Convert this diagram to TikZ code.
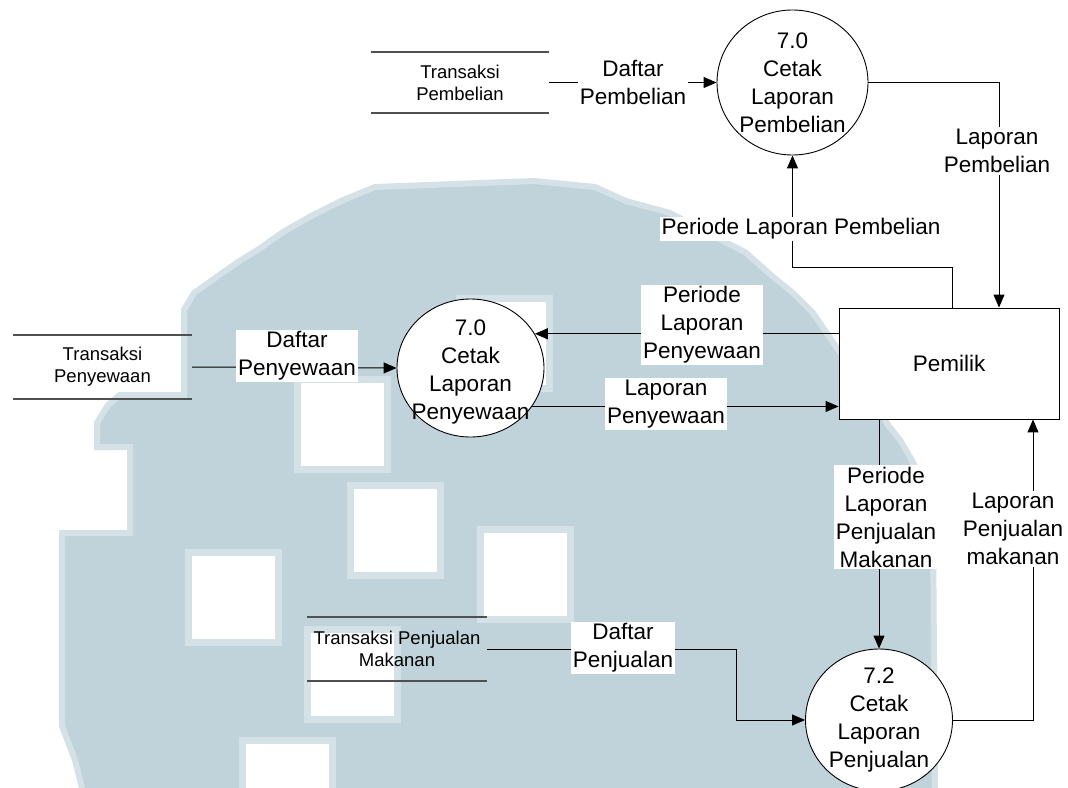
\documentclass[tikz,border=0pt]{standalone}
\usepackage{fontspec}
\setmainfont{Liberation Sans}
\usetikzlibrary{arrows.meta,shapes.geometric}
\definecolor{wmfill}{RGB}{193,211,218}
\definecolor{wmedge}{RGB}{212,225,231}
\definecolor{storeline}{RGB}{80,80,80}
\begin{document}
\begin{tikzpicture}[x=1pt,y=-1pt,
  big/.style={font=\fontsize{22.5}{28}\selectfont, align=center},
  small/.style={font=\fontsize{18.5}{22}\selectfont, align=center},
  proc/.style={ellipse, draw=black, line width=0.9pt, fill=white, inner sep=0pt},
  entity/.style={rectangle, draw=black, line width=0.9pt, fill=white,
    minimum width=220pt, minimum height=111pt, big},
  store/.style={rectangle, inner sep=0pt, small},
  storeedge/.style={draw=storeline, line width=1.6pt},
  lab/.style={big, fill=white, inner sep=2pt},
  flow/.style={draw=black, line width=1pt, -{Triangle[length=13pt,width=11pt]}},
  wmsq/.style={fill=white, draw=wmedge, line width=7pt},
]
% page
\fill[white] (0,0) rectangle (1068,787);
\useasboundingbox (0,0) rectangle (1068,787);

% background logo
\filldraw[fill=wmfill, draw=wmedge, line width=6pt]
  (375,187) -- (534,181) -- (595,187) -- (626,201) -- (670,213) -- (725,242)
  -- (745,252) -- (772,276) -- (793,293) -- (813,313) -- (841,354)
  -- (870,390) -- (888,425) -- (900,440) -- (910,457) -- (922,480)
  -- (933,520) -- (935,800) -- (85,800) -- (75,760) -- (62,726)
  -- (62,533) -- (130,533) -- (130,447) -- (97,447) -- (97,423)
  -- (108,405) -- (120,395) -- (184,395) -- (184,310) -- (194,293)
  -- (218,276) -- (238,262) -- (259,249) -- (283,232) -- (313,215)
  -- (341,201) -- cycle;
\foreach \sx/\sy in {346/481, 184/548, 476/525, 303/625, 238/736, 293/375, 455/294}
  \draw[wmsq] (\sx+4,\sy+4) rectangle (\sx+94,\sy+94);

% data stores
\node[store, minimum width=178pt, minimum height=61pt] (S1) at (460,82.5) {Transaksi\\Pembelian};
\draw[storeedge] (S1.north west) -- (S1.north east) (S1.south west) -- (S1.south east);
\node[store, minimum width=179pt, minimum height=64pt] (S2) at (102.5,367) {Transaksi\\Penyewaan};
\draw[storeedge] (S2.north west) -- (S2.north east) (S2.south west) -- (S2.south east);
\node[store, minimum width=180pt, minimum height=64pt] (S3) at (397,649) {Transaksi Penjualan\\Makanan};
\draw[storeedge] (S3.north west) -- (S3.north east) (S3.south west) -- (S3.south east);

% processes
\node[proc, minimum width=151pt, minimum height=145pt] (P1) at (792.5,82.5) {};
\node[big] at (P1) {7.0\\Cetak\\Laporan\\Pembelian};
\node[proc, minimum width=147pt, minimum height=138pt] (P2) at (470.5,368) {};
\node[big] at ([yshift=-4]P2.center) {7.0\\Cetak\\Laporan\\Penyewaan};
\node[proc, minimum width=147pt, minimum height=142pt] (P3) at (879,720) {};
\node[big] at (P3) {7.2\\Cetak\\Laporan\\Penjualan};

% external entity
\node[entity] (E) at (949,363.5) {Pemilik};

% flows
\draw[flow] (S1.east) -- (P1.west);
\node[lab] (l1) at (633,82) {Daftar\\Pembelian};

\draw[flow] (P1.east) -| ([xshift=50]E.north);
\node[lab] (l2) at (997,151) {Laporan\\Pembelian};

\draw[flow] ([xshift=3]E.north) -- ++(0,-40) -| (P1.south);
\node[lab] (l3) at (801,229) {Periode Laporan Pembelian};

\draw[flow] (E.west |- P2.28) -- (P2.28);
\node[lab] (l4) at (702,325) {Periode\\Laporan\\Penyewaan};

\draw[flow] (P2.-32) -- (E.west |- P2.-32);
\node[lab] (l5) at (666,404) {Laporan\\Penyewaan};

\draw[flow] (S2.east) -- (P2.west);
\node[lab] (l6) at (297,356) {Daftar\\Penyewaan};

\draw[flow] (P3.north |- E.south) -- (P3.north);
\node[lab] (l7) at (886,517) {Periode\\Laporan\\Penjualan\\Makanan};

\draw[flow] (P3.east) -| ([xshift=84]E.south);
\node[lab] (l8) at (1013,529) {Laporan\\Penjualan\\makanan};

\draw[flow] (S3.east) -- ++(249,0) |- (P3.west);
\node[lab] (l9) at (623,648) {Daftar\\Penjualan};
\end{tikzpicture}
\end{document}
